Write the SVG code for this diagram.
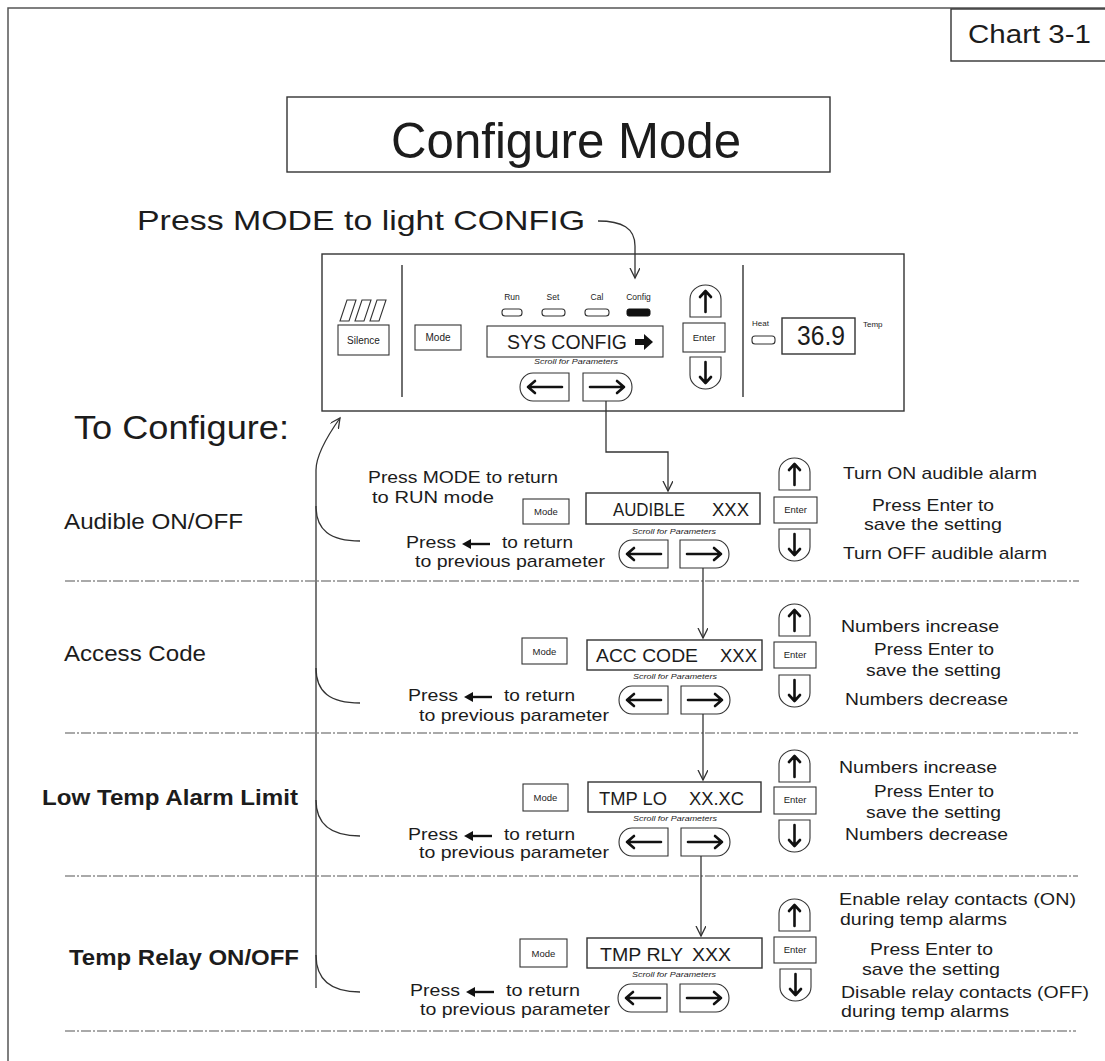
<svg xmlns="http://www.w3.org/2000/svg" xmlns:xlink="http://www.w3.org/1999/xlink" width="1105" height="1061" viewBox="0 0 1105 1061">
<style>
.t{font-family:"Liberation Sans",Arial,sans-serif;fill:#1c1c1c}
.b{font-weight:bold}
.box{fill:#fff;stroke:#333;stroke-width:1.4}
.thin{fill:#fff;stroke:#333;stroke-width:1.1}
.dash{fill:none;stroke:#555;stroke-width:1.1;stroke-dasharray:10 2 2 2}
.conn{fill:none;stroke:#333;stroke-width:1.3}
.ar{fill:none;stroke:#111;stroke-width:2.6;stroke-linecap:round;stroke-linejoin:round}
.sm{font-size:8.5px}
.sc{font-size:6.5px;font-style:italic}
.r{font-size:17px}
.lab{font-size:22px}
.d{font-size:18px}
</style>
<defs>
<marker id="arr" markerUnits="userSpaceOnUse" markerWidth="14" markerHeight="14" refX="10" refY="5" orient="auto">
<path d="M0 0 L10 5 L0 10" fill="none" stroke="#333" stroke-width="1.3"/>
</marker>
<g id="btnL"><path class="thin" d="M49 0 H13 A13 14 0 0 0 13 28 H49 Z"/><path class="ar" d="M42 14 H8 M15 8 L8 14 L15 20"/></g>
<g id="btnR"><path class="thin" d="M0 0 H36 A13 14 0 0 1 36 28 H0 Z"/><path class="ar" d="M7 14 H41 M34 8 L41 14 L34 20"/></g>
<g id="btnU"><path class="thin" d="M0 32 V14 A15.5 14 0 0 1 31 14 V32 Z"/><path class="ar" d="M15.5 27 V6 M10 12 L15.5 6 L21 12"/></g>
<g id="btnD"><path class="thin" d="M0 0 H31 V18 A15.5 14 0 0 1 0 18 Z"/><path class="ar" d="M15.5 5 V26 M10 20 L15.5 26 L21 20"/></g>
<g id="smallL"><path d="M8 -2 H28" stroke="#111" stroke-width="2.4"/><polygon points="0,-2 9,-7 9,3" fill="#111"/></g>
</defs>

<rect x="0" y="0" width="1105" height="1061" fill="#fff"/>
<rect id="frame" x="8" y="8" width="1115" height="1075" fill="none" stroke="#555" stroke-width="1.5"/>

<g id="chart-label">
<rect class="box" x="951" y="9" width="160" height="52"/>
<text class="t" x="968" y="43" font-size="26" textLength="123" lengthAdjust="spacingAndGlyphs">Chart 3-1</text>
</g>

<g id="title">
<rect class="box" x="287" y="97" width="543" height="75"/>
<text class="t" x="391" y="158" font-size="50" textLength="350" lengthAdjust="spacingAndGlyphs">Configure Mode</text>
</g>

<g id="press-mode-note">
<text class="t" x="137" y="230" font-size="28" textLength="448" lengthAdjust="spacingAndGlyphs">Press MODE to light CONFIG</text>
</g>

<g id="panel">
<rect class="box" x="322" y="254" width="582" height="157"/>
<g fill="none" stroke="#333" stroke-width="1.1">
<polygon points="340,321 349,321 356,300 347,300"/>
<polygon points="355,321 364,321 371,300 362,300"/>
<polygon points="370,321 379,321 386,300 377,300"/>
</g>
<rect class="thin" x="338" y="325" width="51" height="30"/>
<text class="t" x="363.5" y="344" font-size="10" text-anchor="middle">Silence</text>
<line x1="402" y1="265" x2="402" y2="397" stroke="#333" stroke-width="1.4"/>
<rect class="thin" x="415" y="325" width="46" height="25"/>
<text class="t" x="438" y="341" font-size="10" text-anchor="middle">Mode</text>
<text class="t sm" x="512" y="300" text-anchor="middle">Run</text>
<text class="t sm" x="553" y="300" text-anchor="middle">Set</text>
<text class="t sm" x="597" y="300" text-anchor="middle">Cal</text>
<text class="t sm" x="638.5" y="300" text-anchor="middle">Config</text>
<rect class="thin" x="502" y="309" width="20" height="7" rx="3"/>
<rect class="thin" x="542" y="309" width="23" height="7" rx="3"/>
<rect class="thin" x="585" y="309" width="24" height="7" rx="3"/>
<rect x="627" y="309" width="23" height="7" rx="2" fill="#111" stroke="#111"/>
<rect class="thin" x="487" y="326" width="176" height="31"/>
<text class="t" x="507" y="349" font-size="20" textLength="120" lengthAdjust="spacingAndGlyphs">SYS CONFIG</text>
<polygon points="635,339 644,339 644,334 653,342 644,350 644,345 635,345" fill="#111"/>
<text class="t sc" x="576" y="364" text-anchor="middle" textLength="84" lengthAdjust="spacingAndGlyphs">Scroll for Parameters</text>
<use href="#btnL" x="520" y="373"/>
<use href="#btnR" x="583" y="373"/>
<use href="#btnU" x="690" y="285"/>
<rect class="thin" x="683" y="323" width="42" height="29"/>
<text class="t" x="704" y="341" font-size="9.5" text-anchor="middle">Enter</text>
<use href="#btnD" x="690" y="357"/>
<line x1="743" y1="265" x2="743" y2="397" stroke="#333" stroke-width="1.4"/>
<text class="t" x="752" y="326" font-size="8">Heat</text>
<rect class="thin" x="752" y="336" width="23" height="8" rx="3"/>
<rect class="box" x="782" y="318" width="73" height="36"/>
<text class="t" x="797" y="345" font-size="27" textLength="48" lengthAdjust="spacingAndGlyphs">36.9</text>
<text class="t" x="863" y="327" font-size="8">Temp</text>
</g>

<g id="to-configure">
<text class="t" x="74" y="439" font-size="33" textLength="215" lengthAdjust="spacingAndGlyphs">To Configure:</text>
</g>

<g id="row-audible">
<text class="t lab" x="64" y="529" textLength="179" lengthAdjust="spacingAndGlyphs">Audible ON/OFF</text>
<text class="t r" x="368" y="483" textLength="190" lengthAdjust="spacingAndGlyphs">Press MODE to return</text>
<text class="t r" x="372" y="503" textLength="122" lengthAdjust="spacingAndGlyphs">to RUN mode</text>
<rect class="thin" x="523" y="499" width="46" height="25"/>
<text class="t" x="546" y="515" font-size="9.5" text-anchor="middle">Mode</text>
<rect class="box" x="586" y="493" width="174" height="31"/>
<text class="t d" x="613" y="516" textLength="72" lengthAdjust="spacingAndGlyphs">AUDIBLE</text>
<text class="t d" x="712" y="516" textLength="37" lengthAdjust="spacingAndGlyphs">XXX</text>
<text class="t sc" x="674" y="534" text-anchor="middle" textLength="84" lengthAdjust="spacingAndGlyphs">Scroll for Parameters</text>
<use href="#btnL" x="619" y="540"/>
<use href="#btnR" x="680" y="540"/>
<use href="#btnU" x="779" y="458"/>
<rect class="thin" x="774" y="497" width="43" height="26"/>
<text class="t" x="795.5" y="513" font-size="9.5" text-anchor="middle">Enter</text>
<use href="#btnD" x="779" y="529"/>
<text class="t r" x="406" y="548" textLength="50" lengthAdjust="spacingAndGlyphs">Press</text>
<use href="#smallL" x="462" y="546"/>
<text class="t r" x="502" y="548" textLength="71" lengthAdjust="spacingAndGlyphs">to return</text>
<text class="t r" x="415" y="567" textLength="190" lengthAdjust="spacingAndGlyphs">to previous parameter</text>
<text class="t r" x="843" y="479" textLength="194" lengthAdjust="spacingAndGlyphs">Turn ON audible alarm</text>
<text class="t r" x="872" y="511" textLength="122" lengthAdjust="spacingAndGlyphs">Press Enter to</text>
<text class="t r" x="864" y="530" textLength="138" lengthAdjust="spacingAndGlyphs">save the setting</text>
<text class="t r" x="843" y="559" textLength="204" lengthAdjust="spacingAndGlyphs">Turn OFF audible alarm</text>
</g>

<g id="row-access">
<text class="t lab" x="64" y="661" textLength="142" lengthAdjust="spacingAndGlyphs">Access Code</text>
<rect class="thin" x="522" y="638" width="45" height="26"/>
<text class="t" x="544.5" y="655" font-size="9.5" text-anchor="middle">Mode</text>
<rect class="box" x="587" y="640" width="175" height="30"/>
<text class="t d" x="596" y="662" textLength="102" lengthAdjust="spacingAndGlyphs">ACC CODE</text>
<text class="t d" x="720" y="662" textLength="37" lengthAdjust="spacingAndGlyphs">XXX</text>
<text class="t sc" x="675" y="679" text-anchor="middle" textLength="84" lengthAdjust="spacingAndGlyphs">Scroll for Parameters</text>
<use href="#btnL" x="619" y="686"/>
<use href="#btnR" x="681" y="686"/>
<use href="#btnU" x="779" y="604"/>
<rect class="thin" x="774" y="642" width="42" height="26"/>
<text class="t" x="795" y="658" font-size="9.5" text-anchor="middle">Enter</text>
<use href="#btnD" x="779" y="675"/>
<text class="t r" x="408" y="701" textLength="50" lengthAdjust="spacingAndGlyphs">Press</text>
<use href="#smallL" x="464" y="699"/>
<text class="t r" x="504" y="701" textLength="71" lengthAdjust="spacingAndGlyphs">to return</text>
<text class="t r" x="419" y="721" textLength="190" lengthAdjust="spacingAndGlyphs">to previous parameter</text>
<text class="t r" x="841" y="632" textLength="158" lengthAdjust="spacingAndGlyphs">Numbers increase</text>
<text class="t r" x="874" y="655" textLength="120" lengthAdjust="spacingAndGlyphs">Press Enter to</text>
<text class="t r" x="866" y="676" textLength="135" lengthAdjust="spacingAndGlyphs">save the setting</text>
<text class="t r" x="845" y="705" textLength="163" lengthAdjust="spacingAndGlyphs">Numbers decrease</text>
</g>

<g id="row-lowtemp">
<text class="t lab b" x="42" y="805" textLength="256" lengthAdjust="spacingAndGlyphs">Low Temp Alarm Limit</text>
<rect class="thin" x="523" y="784" width="45" height="27"/>
<text class="t" x="545.5" y="801" font-size="9.5" text-anchor="middle">Mode</text>
<rect class="box" x="588" y="782" width="173" height="30"/>
<text class="t d" x="599" y="805" textLength="68" lengthAdjust="spacingAndGlyphs">TMP LO</text>
<text class="t d" x="689" y="805" textLength="55" lengthAdjust="spacingAndGlyphs">XX.XC</text>
<text class="t sc" x="675" y="821" text-anchor="middle" textLength="84" lengthAdjust="spacingAndGlyphs">Scroll for Parameters</text>
<use href="#btnL" x="619" y="828"/>
<use href="#btnR" x="681" y="828"/>
<use href="#btnU" x="779" y="750"/>
<rect class="thin" x="774" y="787" width="42" height="27"/>
<text class="t" x="795" y="803" font-size="9.5" text-anchor="middle">Enter</text>
<use href="#btnD" x="779" y="820"/>
<text class="t r" x="408" y="840" textLength="50" lengthAdjust="spacingAndGlyphs">Press</text>
<use href="#smallL" x="464" y="838"/>
<text class="t r" x="504" y="840" textLength="71" lengthAdjust="spacingAndGlyphs">to return</text>
<text class="t r" x="419" y="858" textLength="190" lengthAdjust="spacingAndGlyphs">to previous parameter</text>
<text class="t r" x="839" y="773" textLength="158" lengthAdjust="spacingAndGlyphs">Numbers increase</text>
<text class="t r" x="874" y="797" textLength="120" lengthAdjust="spacingAndGlyphs">Press Enter to</text>
<text class="t r" x="866" y="818" textLength="135" lengthAdjust="spacingAndGlyphs">save the setting</text>
<text class="t r" x="845" y="840" textLength="163" lengthAdjust="spacingAndGlyphs">Numbers decrease</text>
</g>

<g id="row-relay">
<text class="t lab b" x="69" y="965" textLength="230" lengthAdjust="spacingAndGlyphs">Temp Relay ON/OFF</text>
<rect class="thin" x="520" y="939" width="47" height="28"/>
<text class="t" x="543.5" y="957" font-size="9.5" text-anchor="middle">Mode</text>
<rect class="box" x="587" y="938" width="175" height="30"/>
<text class="t d" x="600" y="961" textLength="83" lengthAdjust="spacingAndGlyphs">TMP RLY</text>
<text class="t d" x="692" y="961" textLength="39" lengthAdjust="spacingAndGlyphs">XXX</text>
<text class="t sc" x="674" y="977" text-anchor="middle" textLength="84" lengthAdjust="spacingAndGlyphs">Scroll for Parameters</text>
<use href="#btnL" x="618" y="984"/>
<use href="#btnR" x="680" y="984"/>
<use href="#btnU" x="779" y="899"/>
<rect class="thin" x="774" y="937" width="42" height="26"/>
<text class="t" x="795" y="953" font-size="9.5" text-anchor="middle">Enter</text>
<use href="#btnD" x="780" y="969"/>
<text class="t r" x="410" y="996" textLength="50" lengthAdjust="spacingAndGlyphs">Press</text>
<use href="#smallL" x="466" y="994"/>
<text class="t r" x="506" y="996" textLength="74" lengthAdjust="spacingAndGlyphs">to return</text>
<text class="t r" x="420" y="1015" textLength="190" lengthAdjust="spacingAndGlyphs">to previous parameter</text>
<text class="t r" x="839" y="905" textLength="237" lengthAdjust="spacingAndGlyphs">Enable relay contacts (ON)</text>
<text class="t r" x="840" y="925" textLength="167" lengthAdjust="spacingAndGlyphs">during temp alarms</text>
<text class="t r" x="870" y="955" textLength="123" lengthAdjust="spacingAndGlyphs">Press Enter to</text>
<text class="t r" x="862" y="975" textLength="138" lengthAdjust="spacingAndGlyphs">save the setting</text>
<text class="t r" x="841" y="998" textLength="248" lengthAdjust="spacingAndGlyphs">Disable relay contacts (OFF)</text>
<text class="t r" x="841" y="1017" textLength="168" lengthAdjust="spacingAndGlyphs">during temp alarms</text>
</g>

<g id="separators">
<line class="dash" x1="65" y1="581" x2="1079" y2="581"/>
<line class="dash" x1="65" y1="733" x2="1078" y2="733"/>
<line class="dash" x1="65" y1="876" x2="1078" y2="876"/>
<line class="dash" x1="65" y1="1031" x2="1076" y2="1031"/>
</g>

<g id="connectors">
<path class="conn" d="M598 221 C622 221 635 228 635 246 L635 278" marker-end="url(#arr)"/>
<path class="conn" d="M606 401 V452 H668 V491" marker-end="url(#arr)"/>
<path class="conn" d="M703 568 V638" marker-end="url(#arr)"/>
<path class="conn" d="M703 714 V780" marker-end="url(#arr)"/>
<path class="conn" d="M701 856 V936" marker-end="url(#arr)"/>
<path class="conn" d="M316 988 V470 Q316 452 340 418" marker-end="url(#arr)"/>
<path class="conn" d="M316 506 C316 530 330 541 360 541"/>
<path class="conn" d="M316 668 C316 692 330 703 360 703"/>
<path class="conn" d="M316 800 C316 824 330 836 360 836"/>
<path class="conn" d="M316 955 C316 979 330 992 360 992"/>
</g>
</svg>
